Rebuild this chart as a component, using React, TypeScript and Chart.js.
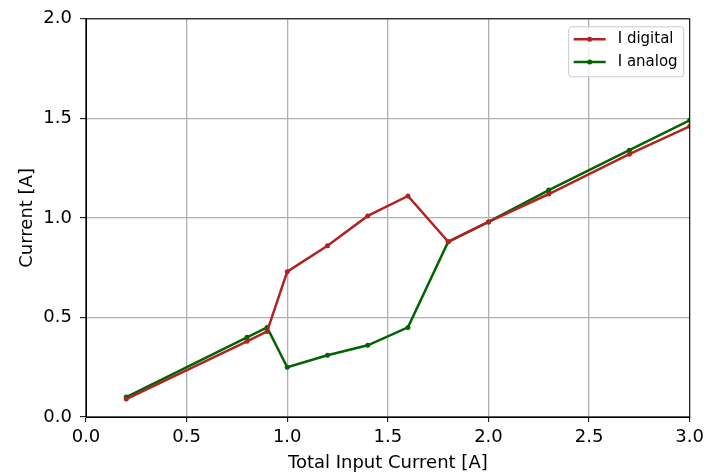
import React, { useEffect, useRef } from "react";
import { Chart, registerables } from "chart.js";

Chart.register(...registerables);

const xValues = [0.2, 0.8, 0.9, 1.0, 1.2, 1.4, 1.6, 1.8, 2.0, 2.3, 2.7, 3.0];
const digitalValues = [0.09, 0.38, 0.43, 0.73, 0.86, 1.01, 1.11, 0.88, 0.98, 1.12, 1.32, 1.46];
const analogValues = [0.1, 0.4, 0.45, 0.25, 0.31, 0.36, 0.45, 0.88, 0.98, 1.14, 1.34, 1.49];
const seriesLabels = ["I digital", "I analog"];
const seriesColors = ["#b22222", "#006400"];
const xTitle = "Total Input Current [A]";
const yTitle = "Current [A]";

const FONT = "'DejaVu Sans', sans-serif";

const framePlugin = {
  id: "frame",
  afterDraw(chart: any) {
    const { ctx, chartArea } = chart;
    ctx.save();
    ctx.strokeStyle = "#000";
    ctx.lineWidth = 1;
    ctx.strokeRect(chartArea.left, chartArea.top, chartArea.right - chartArea.left, chartArea.bottom - chartArea.top);

    // legend
    const w = 115;
    const h = 50;
    const x0 = chartArea.right - 6 - w;
    const y0 = chartArea.top + 8;
    ctx.beginPath();
    const r = 3;
    ctx.moveTo(x0 + r, y0);
    ctx.lineTo(x0 + w - r, y0);
    ctx.quadraticCurveTo(x0 + w, y0, x0 + w, y0 + r);
    ctx.lineTo(x0 + w, y0 + h - r);
    ctx.quadraticCurveTo(x0 + w, y0 + h, x0 + w - r, y0 + h);
    ctx.lineTo(x0 + r, y0 + h);
    ctx.quadraticCurveTo(x0, y0 + h, x0, y0 + h - r);
    ctx.lineTo(x0, y0 + r);
    ctx.quadraticCurveTo(x0, y0, x0 + r, y0);
    ctx.closePath();
    ctx.fillStyle = "rgba(255,255,255,0.8)";
    ctx.fill();
    ctx.strokeStyle = "#cccccc";
    ctx.lineWidth = 1;
    ctx.stroke();

    chart.data.datasets.forEach((ds: any, i: number) => {
      const cy = y0 + 12.5 + i * 22.6;
      ctx.strokeStyle = ds.borderColor;
      ctx.lineWidth = 2.5;
      ctx.beginPath();
      ctx.moveTo(x0 + 5, cy);
      ctx.lineTo(x0 + 37, cy);
      ctx.stroke();
      ctx.fillStyle = ds.borderColor;
      ctx.beginPath();
      ctx.arc(x0 + 21, cy, 2.5, 0, Math.PI * 2);
      ctx.fill();
      ctx.fillStyle = "#000";
      ctx.font = `15px ${FONT}`;
      ctx.textBaseline = "middle";
      ctx.textAlign = "left";
      ctx.fillText(ds.label, x0 + 49, cy);
    });
    ctx.restore();
  },
};

export default function App() {
  const ref = useRef<HTMLCanvasElement>(null);
  useEffect(() => {
    if (!ref.current) return;
    const makeData = (vals: number[]) => xValues.map((x, i) => ({ x, y: vals[i] }));
    const chart = new Chart(ref.current, {
      type: "line",
      data: {
        datasets: [digitalValues, analogValues].map((vals, i) => ({
          label: seriesLabels[i],
          data: makeData(vals),
          borderColor: seriesColors[i],
          backgroundColor: seriesColors[i],
          borderWidth: 2.5,
          pointRadius: 2.5,
          pointBorderWidth: 0,
          pointBackgroundColor: seriesColors[i],
          tension: 0,
          fill: false,
        })),
      },
      options: {
        animation: false,
        responsive: false,
        layout: { padding: { top: 15.5, right: 19, left: 0, bottom: 0 } },
        plugins: { legend: { display: false }, tooltip: { enabled: false } },
        scales: {
          x: {
            type: "linear",
            min: 0,
            max: 3,
            afterFit: (s: any) => {
              s.height = 55;
            },
            ticks: {
              stepSize: 0.5,
              callback: (v: any) => Number(v).toFixed(1),
              color: "#000",
              font: { family: FONT, size: 18 },
              padding: 5,
              maxRotation: 0,
            },
            grid: { color: "#b0b0b0", lineWidth: 1.3, tickColor: "#000", tickLength: 5, tickWidth: 1 },
            border: { color: "#000", width: 1 },
            title: { display: true, text: xTitle, color: "#000", font: { family: FONT, size: 18 }, padding: { top: 0, bottom: -2 } },
          },
          y: {
            type: "linear",
            min: 0,
            max: 2,
            afterFit: (s: any) => {
              s.width = 86;
            },
            ticks: {
              stepSize: 0.5,
              callback: (v: any) => Number(v).toFixed(1),
              color: "#000",
              font: { family: FONT, size: 18 },
              padding: 8,
            },
            grid: { color: "#b0b0b0", lineWidth: 1.3, tickColor: "#000", tickLength: 6, tickWidth: 1 },
            border: { color: "#000", width: 1 },
            title: { display: true, text: yTitle, color: "#000", font: { family: FONT, size: 18 }, padding: { top: 17, bottom: 0 } },
          },
        },
      },
      plugins: [framePlugin],
    } as any);
    return () => chart.destroy();
  }, []);
  return (
    <div style={{ position: "absolute", left: 0, top: 0, width: 709, height: 472 }}>
      <canvas ref={ref} width={709} height={472} />
    </div>
  );
}
